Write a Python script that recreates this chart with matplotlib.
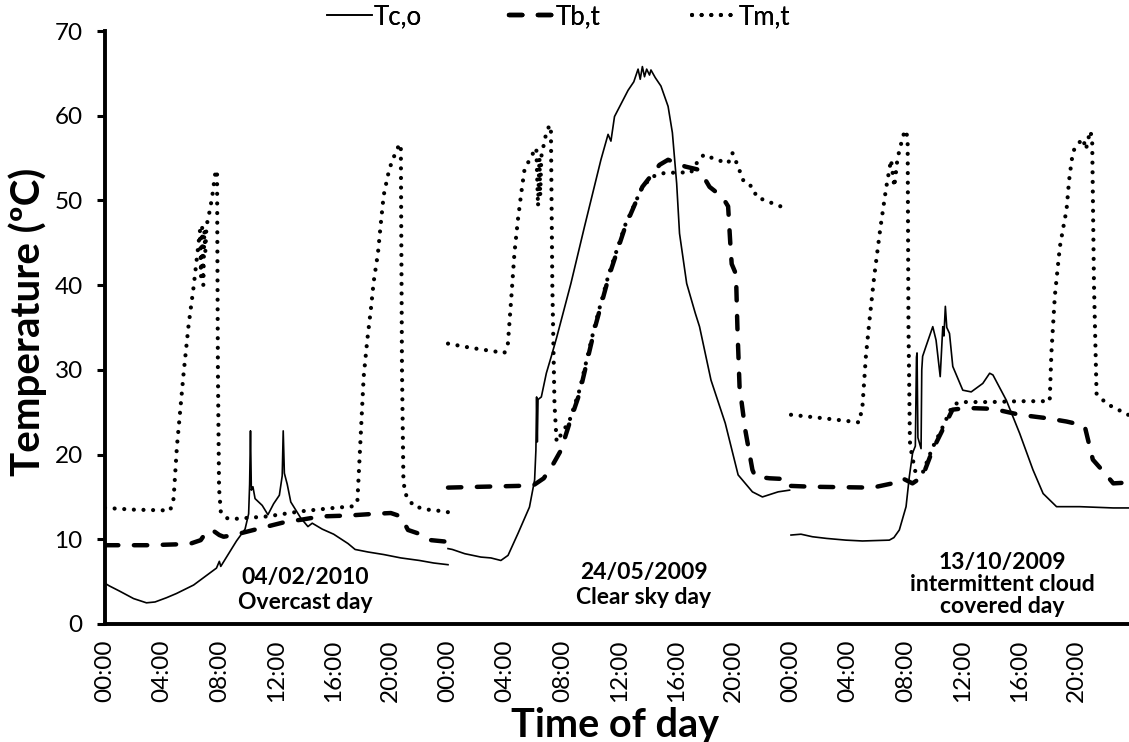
import matplotlib
matplotlib.use('Agg')
import matplotlib.pyplot as plt
import numpy as np

# ---------------- data (hour of day, temperature degC) ----------------
DAY_LABELS = ['04/02/2010\nOvercast day', '24/05/2009\nClear sky day',
              '13/10/2009\nintermittent cloud\ncovered day']
TICK_LABELS = ['00:00', '04:00', '08:00', '12:00', '16:00', '20:00']
SERIES_NAMES = ['Tc,o', 'Tb,t', 'Tm,t']

# Day 1 : 04/02/2010
d1_tco = [(0.0, 4.8), (0.3, 4.5), (1.0, 3.9), (2.0, 3.0), (2.9, 2.5), (3.5, 2.6), (4.3, 3.1),
          (5.0, 3.6), (6.2, 4.6), (7.0, 5.6), (7.8, 6.6), (8.0, 7.4), (8.1, 6.8), (8.5, 7.9),
          (9.2, 9.8), (9.8, 11.2), (10.05, 13.0), (10.12, 16.5), (10.18, 22.8), (10.24, 15.8),
          (10.35, 16.2), (10.5, 14.8), (11.0, 14.0), (11.4, 12.9), (11.8, 14.2), (12.2, 15.2),
          (12.4, 17.5), (12.47, 22.8), (12.55, 17.8), (12.75, 16.5), (13.0, 14.4), (13.7, 12.5),
          (14.2, 11.5), (14.5, 11.9), (15.2, 11.2), (16.0, 10.6), (17.0, 9.5), (17.5, 8.8),
          (18.4, 8.5), (19.5, 8.2), (20.7, 7.8), (22.0, 7.5), (23.0, 7.2), (24.0, 7.0)]
d1_tbt = [(0, 9.3), (1, 9.3), (3, 9.3), (5, 9.4), (6, 9.5), (6.7, 9.9), (7.1, 10.9), (7.5, 11.1),
          (8.0, 10.5), (8.3, 10.3), (9.0, 10.5), (10.4, 11.1), (11.8, 11.7), (12.75, 12.1),
          (13.7, 12.3), (15.1, 12.7), (17.0, 12.8), (18.8, 13.0), (20.0, 13.1), (20.7, 12.7),
          (21.2, 11.1), (21.9, 10.7), (22.8, 9.9), (24.0, 9.7)]
d1_tmt = [(0, 13.7), (2, 13.5), (4.56, 13.4), (4.8, 14.8), (5.03, 20.9), (5.5, 29.6), (5.85, 35.3),
          (6.2, 39.8), (6.43, 43.2), (6.55, 45.0), (6.65, 46.5), (6.72, 41.0), (6.8, 46.8),
          (6.88, 40.0), (6.95, 46.5), (7.02, 44.0), (7.1, 47.0), (7.25, 48.1), (7.49, 50.3),
          (7.65, 52.4), (7.75, 53.6), (7.84, 53.2), (7.9, 30.0), (7.98, 16.0), (8.1, 13.3),
          (8.5, 12.5), (9.0, 12.4), (11.35, 12.7), (13.7, 13.3), (16.0, 13.7), (17.4, 13.9),
          (17.66, 14.5), (18.1, 29.2), (18.35, 33.5), (18.6, 37.1), (18.8, 40.4), (19.1, 43.8),
          (19.3, 47.3), (19.5, 50.6), (19.8, 53.0), (20.1, 54.8), (20.35, 55.6), (20.6, 56.7),
          (20.7, 56.2), (20.78, 30.0), (20.88, 17.0), (21.0, 15.4), (21.6, 13.9), (22.6, 13.5),
          (23.7, 13.3), (24.0, 13.2)]

# Day 2 : 24/05/2009
d2_tco = [(0, 8.9), (0.3, 8.8), (1.17, 8.3), (2.3, 7.9), (3.0, 7.8), (3.7, 7.5), (4.2, 8.1),
          (4.9, 10.7), (5.7, 13.8), (6.06, 17.0), (6.15, 20.5), (6.2, 26.8), (6.25, 21.5),
          (6.3, 26.5), (6.53, 26.8), (6.88, 29.6), (7.23, 31.6), (7.6, 33.8), (8.6, 40.2),
          (9.55, 46.9), (10.7, 54.8), (11.2, 57.8), (11.4, 57.0), (11.65, 59.9), (12.6, 63.0),
          (13.0, 64.0), (13.3, 65.5), (13.45, 64.3), (13.6, 65.8), (13.75, 64.6), (13.9, 65.5),
          (14.1, 64.8), (14.2, 65.4), (14.5, 64.5), (14.9, 63.5), (15.4, 61.1), (15.7, 58.0),
          (16.0, 52.0), (16.2, 46.1), (16.7, 40.2), (17.3, 36.7), (17.6, 35.1), (18.4, 28.8),
          (19.4, 23.7), (20.3, 17.6), (21.3, 15.6), (22.0, 15.0), (23.1, 15.6), (23.9, 15.8)]
d2_tbt = [(0, 16.1), (2.3, 16.2), (4.9, 16.3), (6.0, 16.4), (6.7, 17.2), (7.4, 19.0), (7.9, 20.5),
          (8.5, 23.7), (9.2, 27.2), (10.3, 35.1), (11.25, 41.0), (12.4, 46.9), (13.6, 51.6),
          (14.8, 54.2), (15.4, 54.8), (16.6, 54.0), (17.6, 53.6), (18.3, 51.6), (19.2, 50.4),
          (19.6, 49.3), (19.75, 45.0), (19.85, 42.5), (20.15, 41.3), (20.25, 35.0), (20.4, 28.0),
          (20.8, 22.9), (21.3, 18.2), (21.5, 17.4), (22.5, 17.2), (23.7, 17.1), (24.0, 17.0)]
d2_tmt = [(0, 33.1), (1.6, 32.6), (3.95, 32.0), (4.19, 33.1), (4.42, 38.3), (4.65, 43.8),
          (4.89, 47.7), (5.12, 50.8), (5.35, 53.6), (5.82, 55.2), (6.18, 56.2), (6.3, 49.3),
          (6.4, 55.0), (6.45, 50.5), (6.53, 55.2), (6.88, 58.0), (7.11, 58.9), (7.2, 58.5),
          (7.3, 40.0), (7.45, 26.0), (7.6, 21.5), (8.5, 24.0), (9.2, 27.6), (10.3, 35.4),
          (11.25, 41.3), (12.4, 47.1), (13.6, 51.6), (14.3, 52.8), (15.0, 53.2), (16.0, 53.3),
          (17.0, 53.3), (17.4, 54.4), (17.9, 55.4), (18.8, 54.8), (19.6, 54.4), (19.9, 55.6),
          (20.2, 54.4), (20.7, 52.2), (21.3, 51.6), (21.6, 50.4), (22.2, 50.0), (23.1, 49.4),
          (23.8, 49.0)]

# Day 3 : 13/10/2009
d3_tco = [(0, 10.5), (0.7, 10.6), (1.5, 10.3), (2.5, 10.1), (3.84, 9.9), (5.0, 9.8), (6.88, 9.9),
          (7.2, 10.2), (7.58, 11.1), (8.05, 13.85), (8.28, 17.4), (8.51, 20.2), (8.7, 21.0),
          (8.78, 31.5), (8.82, 32.0), (8.88, 22.0), (9.1, 20.7), (9.15, 30.0), (9.21, 31.6),
          (9.45, 32.8), (9.92, 35.1), (10.15, 33.5), (10.44, 29.2), (10.62, 35.1), (10.7, 34.0),
          (10.8, 37.5), (10.9, 35.0), (11.09, 34.3), (11.32, 30.4), (12.02, 27.6), (12.61, 27.4),
          (13.42, 28.4), (13.9, 29.6), (14.13, 29.4), (15.07, 26.4), (16.0, 22.5), (16.93, 18.2),
          (17.64, 15.4), (18.58, 13.85), (20.2, 13.85), (22.55, 13.7), (23.58, 13.7), (24.0, 13.7)]
d3_tbt = [(0, 16.3), (1.5, 16.2), (5.7, 16.1), (7.1, 16.6), (7.8, 17.2), (8.5, 16.6), (9.2, 17.4),
          (9.9, 20.5), (10.6, 22.9), (11.3, 25.3), (12.26, 25.5), (14.13, 25.4), (16.0, 24.7),
          (17.87, 24.3), (19.28, 23.9), (20.33, 23.5), (20.56, 23.3), (21.12, 19.4), (21.96, 17.8),
          (22.55, 16.6), (23.58, 16.7), (24.0, 16.7)]
d3_tmt = [(0, 24.7), (2.2, 24.3), (4.77, 23.8), (5.0, 25.7), (5.24, 31.6), (5.47, 35.5),
          (5.82, 41.0), (6.25, 46.7), (6.65, 51.4), (7.0, 54.8), (7.23, 51.6), (7.46, 55.1),
          (7.63, 56.1), (7.77, 57.2), (7.98, 58.3), (8.16, 57.5), (8.22, 35.0), (8.32, 21.5),
          (8.45, 20.0), (8.7, 18.0), (9.2, 17.8), (9.9, 20.8), (10.6, 23.2), (11.3, 25.8),
          (11.8, 26.2), (14.0, 26.2), (16.0, 26.3), (18.1, 26.3), (18.22, 32.0), (18.46, 38.7),
          (18.81, 44.5), (19.04, 46.7), (19.28, 48.9), (19.46, 52.4), (19.63, 54.6), (19.74, 55.8),
          (20.09, 56.7), (20.44, 57.3), (20.63, 56.0), (20.79, 57.1), (20.91, 58.2), (21.07, 57.5),
          (21.2, 40.0), (21.38, 27.2), (22.08, 26.0), (23.58, 24.7), (24.0, 24.6)]

TCO = [d1_tco, d2_tco, d3_tco]
TBT = [d1_tbt, d2_tbt, d3_tbt]
TMT = [d1_tmt, d2_tmt, d3_tmt]
LABEL_POS = [(14.0, 4.0), (37.7, 4.6), (62.8, 4.7)]


def join_days(days):
    xs, ys = [], []
    for k, pts in enumerate(days):
        h, v = zip(*pts)
        xs += [24 * k + t for t in h] + [np.nan]
        ys += list(v) + [np.nan]
    return np.array(xs), np.array(ys)


plt.rcParams['font.family'] = ['Lato', 'DejaVu Sans']

W, H = 1129, 742
fig = plt.figure(figsize=(W / 100, H / 100), dpi=100)
ax = fig.add_axes([105 / W, 1 - 624 / H, 1024 / W, 593 / H])

x, y = join_days(TCO)
l1, = ax.plot(x, y, color='black', lw=1.2, solid_joinstyle='round', label=SERIES_NAMES[0])
x, y = join_days(TBT)
l2, = ax.plot(x, y, color='black', lw=3.2, linestyle=(0, (3, 3.5)), dash_capstyle='round',
              label=SERIES_NAMES[1])
x, y = join_days(TMT)
l3, = ax.plot(x, y, color='black', lw=3.0, linestyle=(0, (0.01, 2.3)), dash_capstyle='round',
              label=SERIES_NAMES[2])

ax.set_xlim(0, 71.65)
ax.set_ylim(0, 70)
ax.set_yticks(range(0, 71, 10))
ax.set_xticks(range(0, 72, 4))
ax.set_xticklabels(TICK_LABELS * 3)
ax.tick_params(axis='x', length=0, pad=11, labelsize=17.5, labelrotation=90)
ax.tick_params(axis='y', length=6, width=2.2, pad=10, labelsize=17.5)
for s in ['top', 'right']:
    ax.spines[s].set_visible(False)
for s in ['left', 'bottom']:
    ax.spines[s].set_linewidth(2.8)

for (px, py), txt in zip(LABEL_POS, DAY_LABELS):
    ax.text(px, py, txt, ha='center', va='center', fontsize=16.5, fontweight='bold',
            linespacing=1.25 if txt.count('\n') == 1 else 1.05)

fig.text(28 / W, 1 - 322 / H, 'Temperature (ºC)', rotation=90, ha='center', va='center',
         fontsize=29, fontweight='bold')
fig.text(615 / W, 1 - 737 / H, 'Time of day', ha='center', va='baseline',
         fontsize=28.5, fontweight='bold')

# one legend entry per series, positioned like the reference
for handle, left_px in zip([l1, l2, l3], [323, 505, 688]):
    leg = fig.legend(handles=[handle], loc='upper left', bbox_to_anchor=(left_px / W, 1.0),
                     frameon=False, fontsize=18.5, handlelength=1.75, handletextpad=0.08,
                     borderaxespad=0.0, borderpad=0.15)
    fig.add_artist(leg)

fig.savefig('out.png', dpi=100)
